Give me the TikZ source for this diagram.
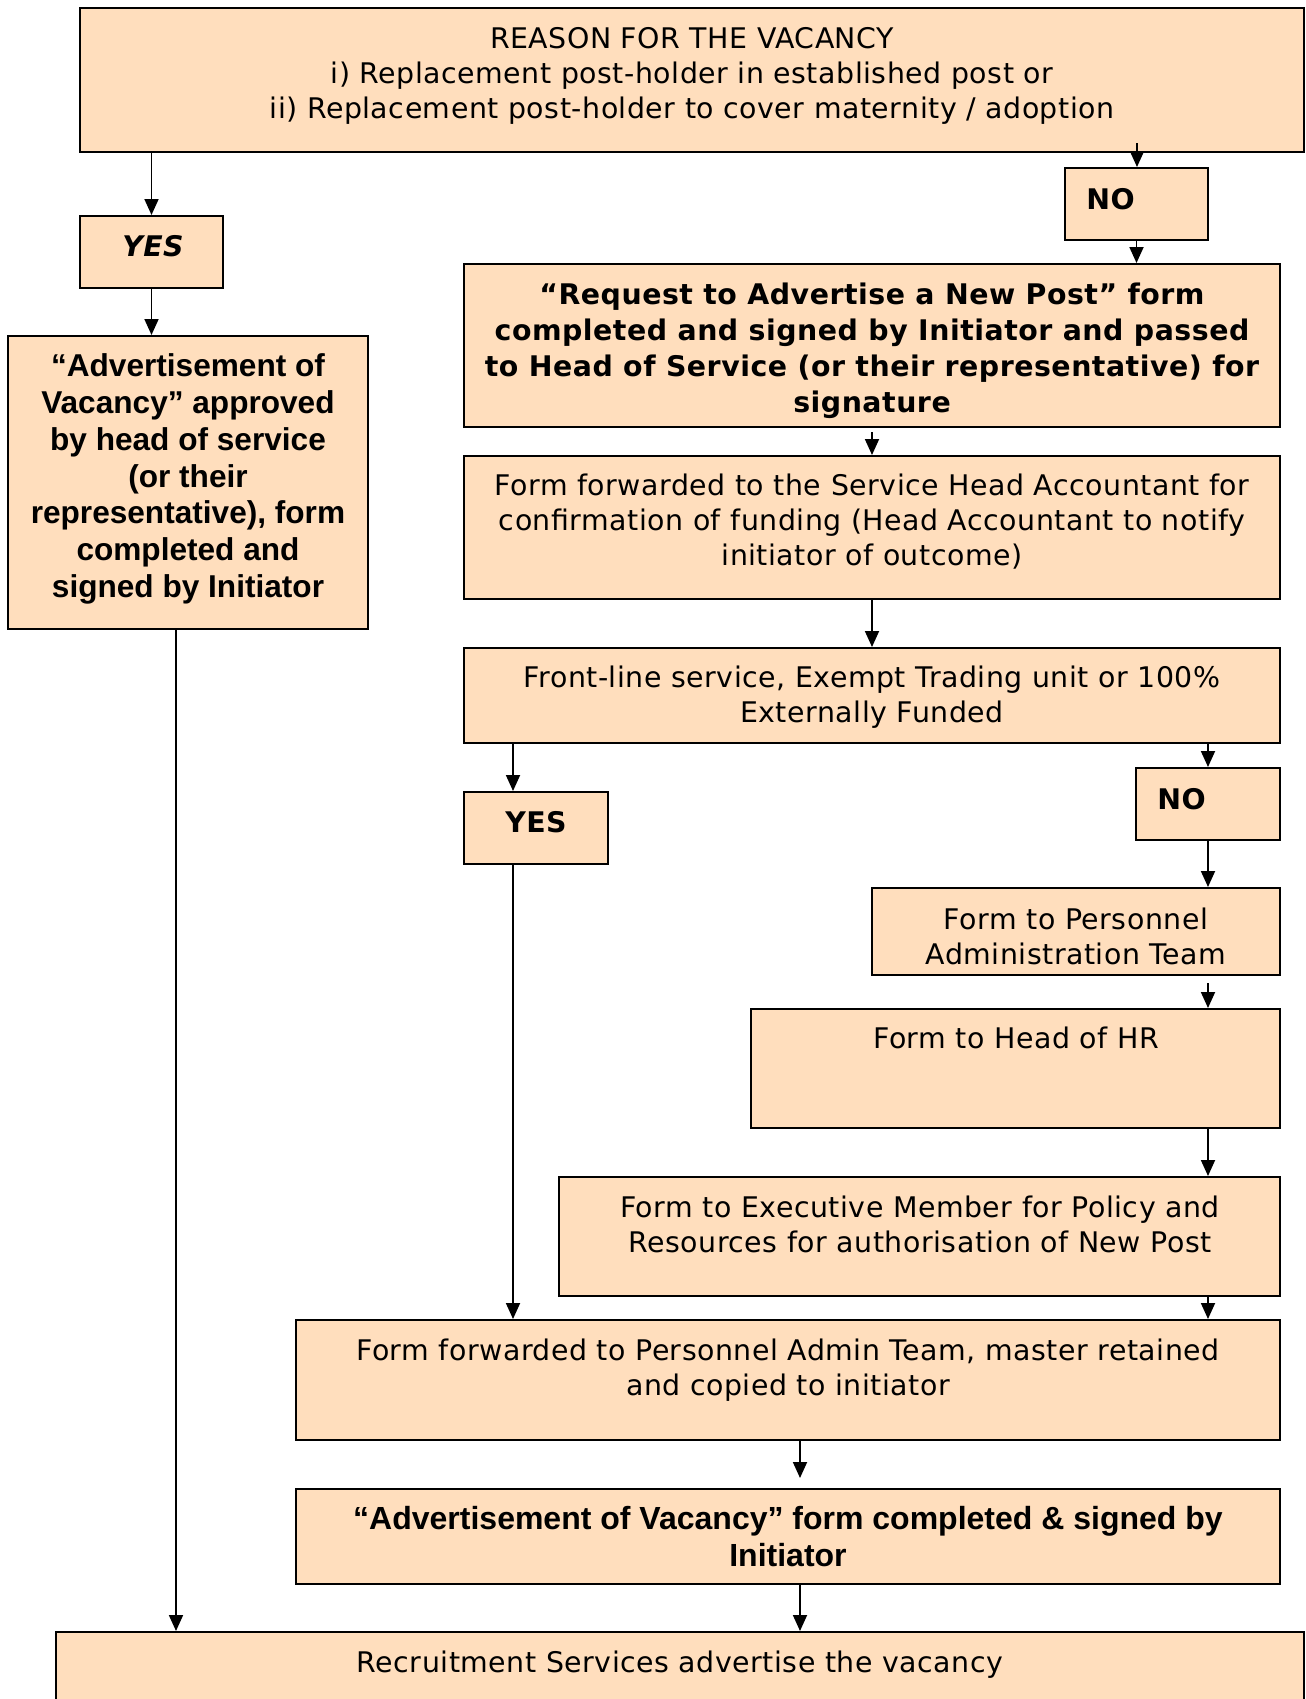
\documentclass[tikz,border=0pt]{standalone}
\usepackage{fontspec}
\setmainfont{DejaVu Sans}[LetterSpace=1.8]
\newfontfamily\arialfont{Liberation Sans}
\usetikzlibrary{arrows.meta}
\definecolor{peach}{RGB}{255,222,189}
\begin{document}
\begin{tikzpicture}[x=0.5pt,y=-0.5pt,
  box/.style={draw, line width=1pt, fill=peach, inner sep=0pt, rectangle},
  arr/.style={line width=0.9pt, -{Triangle[length=8pt,width=7pt]}},
  vt/.style={font=\fontsize{14.2}{17.5}\selectfont, align=center, inner sep=0pt},
  vb/.style={font=\bfseries\fontsize{14.2}{18}\selectfont, align=center, inner sep=0pt},
  ab/.style={font=\arialfont\bfseries\fontsize{15.8}{18.4}\selectfont, align=center, inner sep=0pt}]
\useasboundingbox (0,0) rectangle (1306,1699);
\clip (0,0) rectangle (1306,1699);
% boxes
\node[box, minimum width=612pt, minimum height=72pt] (top) at (692,80) {};
\node[box, minimum width=71.5pt, minimum height=36pt] (no1) at (1136.5,204) {};
\node[box, minimum width=71.5pt, minimum height=36pt] (yes1) at (151.5,252) {};
\node[box, minimum width=408pt, minimum height=81.5pt] (req) at (872,345.5) {};
\node[box, minimum width=408pt, minimum height=71.5pt] (fwd) at (872,527.5) {};
\node[box, minimum width=408pt, minimum height=47.5pt] (front) at (872,695.5) {};
\node[box, minimum width=72pt, minimum height=36pt] (yes2) at (536,828) {};
\node[box, minimum width=72pt, minimum height=36pt] (no2) at (1208,804) {};
\node[box, minimum width=204pt, minimum height=43.5pt] (pers) at (1076,931.5) {};
\node[box, minimum width=264.5pt, minimum height=59.5pt] (hr) at (1015.5,1068.5) {};
\node[box, minimum width=360.5pt, minimum height=59.5pt] (exec) at (919.5,1236.5) {};
\node[box, minimum width=492pt, minimum height=60pt] (pat) at (788,1380) {};
\node[box, minimum width=492pt, minimum height=47.5pt] (adv) at (788,1536.5) {};
\node[box, minimum width=180pt, minimum height=146.5pt] (left) at (188,482.5) {};
\node[box, minimum width=624pt, minimum height=64pt] (bot) at (680,1696) {};
% texts
\node[vt] (ttop) at (692,76) {REASON FOR THE VACANCY\\i) Replacement post-holder in established post or\\ii) Replacement post-holder to cover maternity / adoption};
\node[vb, anchor=west] (tno1) at (1086,199) {NO};
\node[vb, font=\bfseries\itshape\fontsize{14.2}{18}\selectfont] (tyes1) at (153,246) {YES};
\node[vb] (treq) at (872,350.5) {“Request to Advertise a New Post” form\\completed and signed by Initiator and passed\\to Head of Service (or their representative) for\\signature};
\node[vt] (tfwd) at (872,522) {Form forwarded to the Service Head Accountant for\\confirmation of funding (Head Accountant to notify\\initiator of outcome)};
\node[vt] (tfront) at (872,697) {Front-line service, Exempt Trading unit or 100\%\\Externally Funded};
\node[vb] (tyes2) at (536,822) {YES};
\node[vb, anchor=west] (tno2) at (1157,799) {NO};
\node[vt] (tpers) at (1076,936) {Form to Personnel\\Administration Team};
\node[vt] (thr) at (1016,1038) {Form to Head of HR};
\node[vt] (texec) at (920,1224) {Form to Executive Member for Policy and\\Resources for authorisation of New Post};
\node[vt] (tpat) at (788,1370) {Form forwarded to Personnel Admin Team, master retained\\and copied to initiator};
\node[ab, font=\arialfont\bfseries\fontsize{16}{18.5}\selectfont] (tadv) at (788,1537) {“Advertisement of Vacancy” form completed \& signed by\\Initiator};
\node[ab] (tleft) at (188,479) {“Advertisement of\\Vacancy” approved\\by head of service\\(or their\\representative), form\\completed and\\signed by Initiator};
\node[vt] (tbot) at (680,1665) {Recruitment Services advertise the vacancy};
% lane coordinates
\coordinate (s1) at (1137,143);
\coordinate (r1) at (872,432);
\coordinate (lE) at (513,0);
\coordinate (p1) at (1208,983);
\coordinate (g1) at (800,1478);
\coordinate (lB) at (176,0);
% connectors
\draw[arr] (top.south -| yes1.north) -- (yes1.north);
\draw[arr] (s1) -- (s1 |- no1.north);
\draw[arr] (no1.south) -- (req.north -| no1.south);
\draw[arr] (yes1.south) -- (left.north -| yes1.south);
\draw[arr] (r1) -- (fwd.north);
\draw[arr] (fwd.south) -- (front.north);
\draw[arr] (front.south -| lE) -- (yes2.north -| lE);
\draw[arr] (front.south -| no2.north) -- (no2.north);
\draw[arr] (no2.south) -- (pers.north -| no2.south);
\draw[arr] (p1) -- (hr.north -| p1);
\draw[arr] (hr.south -| p1) -- (exec.north -| p1);
\draw[arr] (exec.south -| p1) -- (pat.north -| p1);
\draw[arr] (yes2.south -| lE) -- (pat.north -| lE);
\draw[arr] (pat.south -| g1) -- (g1);
\draw[arr] (adv.south -| g1) -- (bot.north -| g1);
\draw[arr] (left.south -| lB) -- (bot.north -| lB);
\end{tikzpicture}
\end{document}
